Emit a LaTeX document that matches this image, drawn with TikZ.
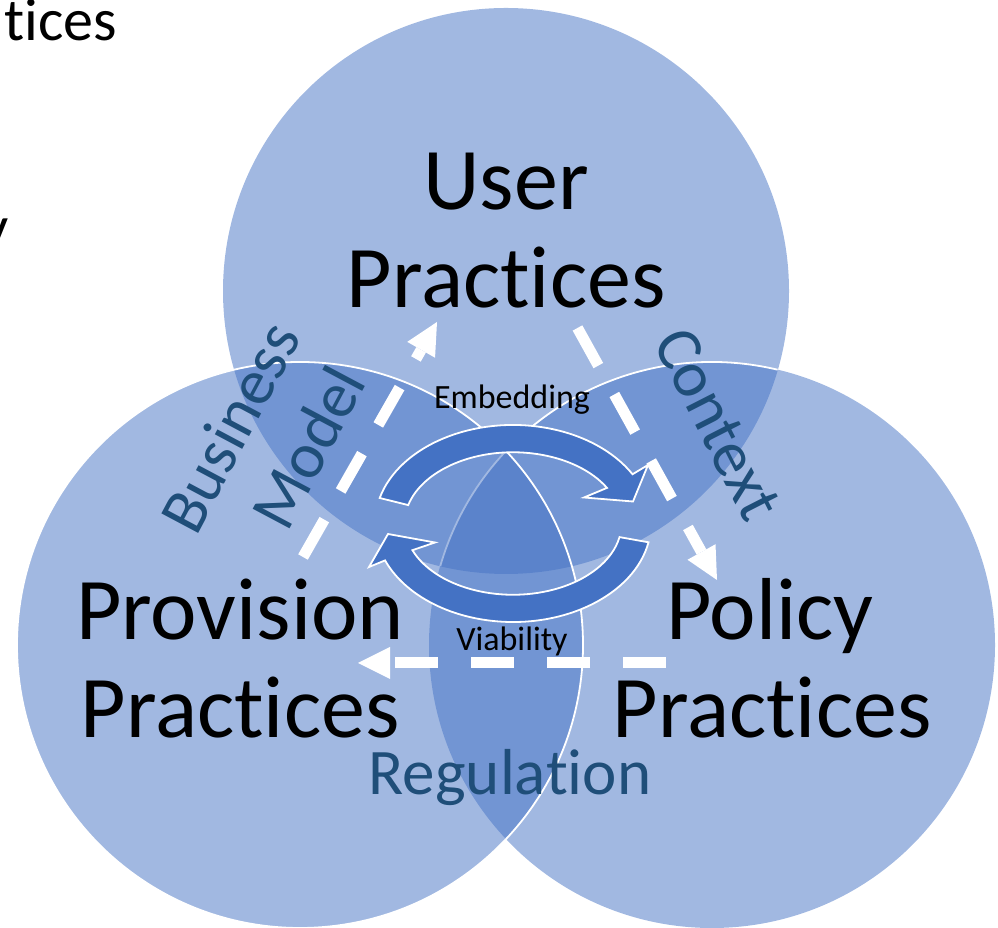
\documentclass[tikz,border=0pt]{standalone}
\usepackage{fontspec}
\setmainfont{Carlito}[Ligatures={NoCommon,NoRequired,NoContextual}, Contextuals={NoAlternate}]
\usetikzlibrary{arrows.meta,calc}
\definecolor{accent}{HTML}{4472C4}
\definecolor{linkblue}{HTML}{1F4E79}
\begin{document}
\begin{tikzpicture}[x=1pt,y=1pt,
  venn/.style={fill=accent, fill opacity=0.5},
  rim/.style={draw=white, line width=1.8pt},
  cyclearrow/.style={fill=accent, draw=white, line width=1.8pt, line join=miter},
  flow/.style={draw=white, line width=11pt, dash pattern=on 43pt off 33pt,
    -{Triangle[length=32pt, width=32pt, line width=0pt]}},
  practice/.style={font=\fontsize{88}{98}\selectfont, inner sep=0pt, anchor=base, text=black},
  cyclelabel/.style={font=\fontsize{34}{40}\selectfont, inner sep=0pt, anchor=base, text=black},
  linklabel/.style={font=\fontsize{65}{78}\selectfont, inner sep=0pt, text=linkblue},
  fragment/.style={font=\fontsize{60}{72}\selectfont, inner sep=0pt, anchor=base east, text=black}
]
\useasboundingbox (0,0) rectangle (998,928);
\clip (0,0) rectangle (998,928);

% text of the slide behind, cut by the edge
\node[fragment] (frag-a) at (117,887) {t\kern0pt ices};
\node[fragment] (frag-b) at (9,680) {y};

% the three practice circles
\fill[venn] (506,637) circle[radius=283];
\fill[venn] (712,283) circle[radius=283];
\draw[rim] (712,283) ++(76.6:283) arc[start angle=76.6, end angle=163.8, radius=283];
\fill[venn] (300,283) circle[radius=283];
\draw[rim] (300,283) circle[radius=283];

% dashed influence arrows
\coordinate (bm-tail) at (303,371);
\coordinate (bm-tip) at (437,606);
\coordinate (ctx-tail) at (577.5,600);
\coordinate (ctx-tip) at (717,348);
\coordinate (reg-tail) at (666,265);
\coordinate (reg-tip) at (358,265);
\draw[flow] (bm-tail) -- (bm-tip);
\draw[flow] (ctx-tail) -- (ctx-tip);
\draw[flow] (reg-tail) -- (reg-tip);

% central cycle of two curved arrows
\coordinate (hub) at (513,404.5);
\draw[cyclearrow] ($(hub)+(-133.3,25.5)$)
  arc[start angle=165, end angle=30, x radius=138, y radius=98.5]
  -- ($(hub)+(135,58.5)$) -- ($(hub)+(120,22)$) -- ($(hub)+(71,26)$)
  -- ($(hub)+(94,35.6)$)
  arc[start angle=30, end angle=165, x radius=108.5, y radius=71.25] -- cycle;
\draw[cyclearrow] ($(hub)+(135.5,-18.8)$)
  arc[start angle=-11, end angle=-158, x radius=138, y radius=98.5]
  -- ($(hub)+(-144,-43.5)$) -- ($(hub)+(-125,-10.5)$) -- ($(hub)+(-78,-19)$)
  -- ($(hub)+(-100.6,-26.7)$)
  arc[start angle=-158, end angle=-11, x radius=108.5, y radius=71.25] -- cycle;

% labels
\node[practice] (user-a) at (506,718) {User};
\node[practice] (user-b) at (506,620) {Prac\kern0pt t\kern0pt ices};
\node[practice] (prov-a) at (240,288) {Provision};
\node[practice] (prov-b) at (240,190) {Prac\kern0pt t\kern0pt ices};
\node[practice] (pol-a) at (770,288) {Policy};
\node[practice] (pol-b) at (772,190) {Prac\kern0pt t\kern0pt ices};
\node[cyclelabel] (embed) at (512,519) {Embedding};
\node[cyclelabel] (viab) at (512,277) {Viability};
\node[linklabel, anchor=base] (reg) at (510,133) {Regula\kern0pt t\kern0pt ion};
\node[linklabel, rotate=62] (bus) at (230,501) {Business};
\node[linklabel, rotate=62] (mod) at (308,481) {Model};
\node[linklabel, rotate=-63] (ctx) at (718,504) {Context};
\end{tikzpicture}
\end{document}
